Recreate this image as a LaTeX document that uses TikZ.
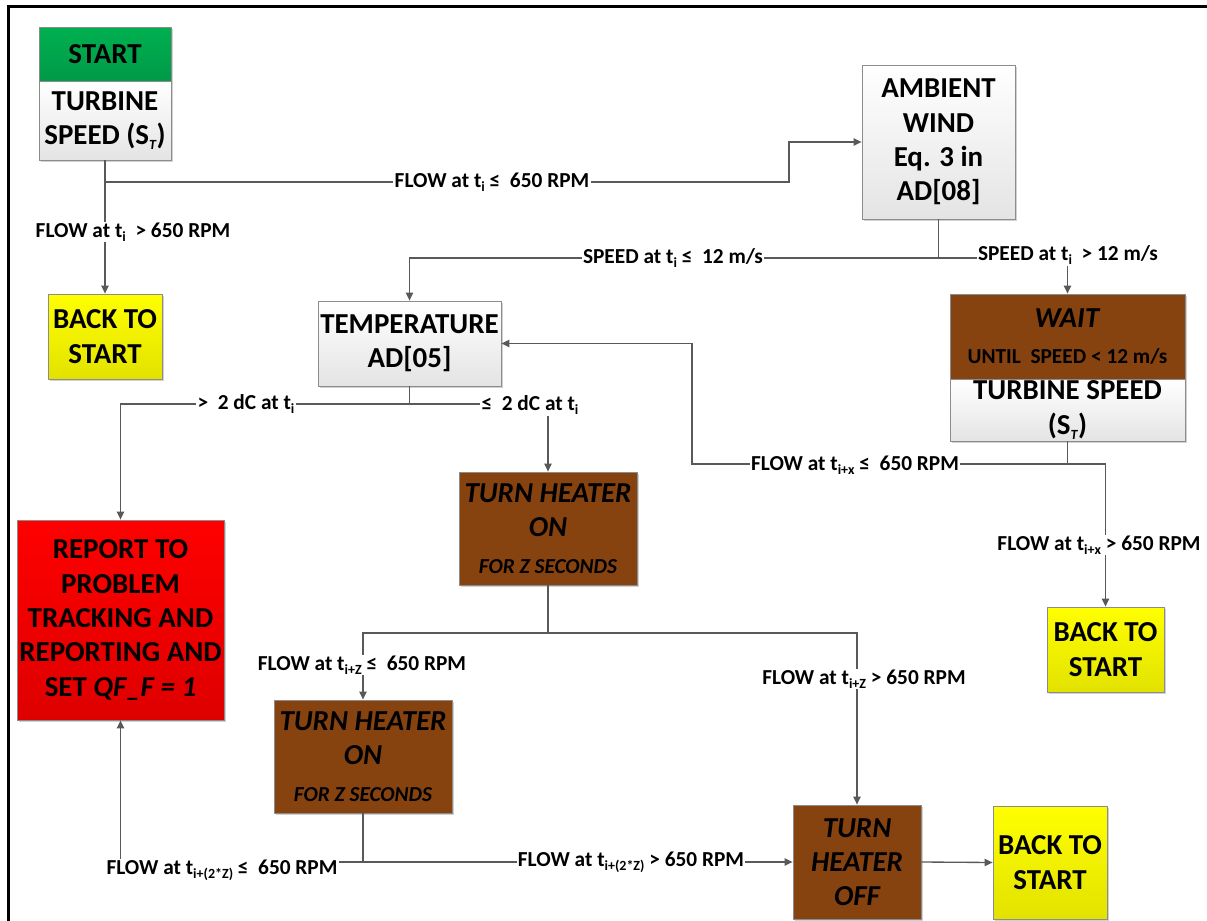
\documentclass[tikz,border=0pt]{standalone}
\usepackage{fontspec}
\setmainfont{Carlito}
\usetikzlibrary{arrows.meta,shadows}
\definecolor{boxline}{HTML}{8C8C8C}
\definecolor{conn}{HTML}{595959}
\definecolor{greenT}{HTML}{00B050}
\definecolor{greenB}{HTML}{009A48}
\definecolor{grayT}{HTML}{FFFFFF}
\definecolor{grayB}{HTML}{E4E4E4}
\definecolor{yelT}{HTML}{FFFF00}
\definecolor{yelB}{HTML}{E2E200}
\definecolor{brownF}{HTML}{86420F}
\definecolor{redT}{HTML}{FF0000}
\definecolor{redB}{HTML}{DE0000}
\newcommand{\boxfont}{\fontsize{21.7}{25.7}\selectfont\bfseries}
\newcommand{\lblfont}{\fontsize{16}{19}\selectfont\bfseries}
\newcommand{\smallfont}{\fontsize{16}{19}\selectfont}
\newcommand{\sbs}[1]{\raisebox{-0.35ex}{\fontsize{10.5}{11}\selectfont #1}}
\tikzset{
  box/.style={draw=boxline, line width=0.6pt, inner sep=0pt, align=center, font=\boxfont,
    drop shadow={shadow xshift=1.5pt, shadow yshift=-1.5pt, opacity=0.3, fill=black!60}},
  graybox/.style={box, top color=grayT, bottom color=grayB},
  greenbox/.style={box, top color=greenT, bottom color=greenB},
  yelbox/.style={box, top color=yelT, bottom color=yelB},
  brownbox/.style={box, fill=brownF},
  redbox/.style={box, top color=redT, bottom color=redB},
  lbl/.style={font=\lblfont, fill=white, inner sep=1pt},
  conline/.style={draw=conn, line width=1pt},
  arr/.style={conline, -{Triangle[length=6pt,width=5.5pt]}}
}
\begin{document}
\begin{tikzpicture}[x=0.75pt,y=-0.75pt]
\useasboundingbox (0,0) rectangle (1207,921);
\draw[line width=2.25pt] (8,921) -- (8,6.5) -- (1207,6.5);

% boxes
\node[greenbox, minimum width=99pt, minimum height=40.5pt] (start) at (105,54) {START};
\node[graybox, minimum width=99pt, minimum height=59.25pt] (turb1) at (105,120.5) {TURBINE\\SPEED (S\sbs{\textit{T}})};
\node[graybox, minimum width=114.75pt, minimum height=115.5pt] (amb) at (938.5,142) {AMBIENT\\WIND\\Eq. 3 in\\AD[08]};
\node[yelbox, minimum width=85.5pt, minimum height=63.75pt] (back1) at (105,336.5) {BACK TO\\START};
\node[graybox, minimum width=137.25pt, minimum height=63.75pt] (temp) at (409.5,343.5) {TEMPERATURE\\AD[05]};
\node[brownbox, minimum width=176.25pt, minimum height=63.75pt] (wait) at (1067.5,336.5) {\textit{WAIT}\\[1pt]{\smallfont UNTIL\ \ SPEED < 12 m/s}};
\node[graybox, minimum width=176.25pt, minimum height=46.5pt] (turb2) at (1067.5,410) {TURBINE SPEED\\(S\sbs{\textit{T}})};
\node[redbox, minimum width=155.25pt, minimum height=150pt] (report) at (120.5,620) {REPORT TO\\PROBLEM\\TRACKING AND\\REPORTING AND\\SET \textit{QF\_F = 1}};
\node[brownbox, minimum width=133.5pt, minimum height=84.75pt] (heat1) at (548,528.5) {\itshape TURN HEATER\\\itshape ON\\[2pt]{\smallfont\itshape FOR Z SECONDS}};
\node[yelbox, minimum width=87.75pt, minimum height=63.75pt] (back2) at (1105.5,649.5) {BACK TO\\START};
\node[brownbox, minimum width=133.5pt, minimum height=84.75pt] (heat2) at (363,756.5) {\itshape TURN HEATER\\\itshape ON\\[2pt]{\smallfont\itshape FOR Z SECONDS}};
\node[brownbox, minimum width=96pt, minimum height=85.5pt] (off) at (857,862) {\itshape TURN\\\itshape HEATER\\\itshape OFF};
\node[yelbox, minimum width=85.5pt, minimum height=84.75pt] (back3) at (1050,862.5) {BACK TO\\START};

% junctions
\coordinate (j1) at (105,182);
\coordinate (j2) at (938.5,258);
\coordinate (j3) at (409.5,404);
\coordinate (j4) at (548,633);
\coordinate (j5) at (363,862);
\coordinate (j6) at (1067.5,464);

% connectors
\draw[arr] (turb1.south) -- (back1.north);
\draw[arr] (j1) -- (789,182) |- (amb.west);
\draw[conline] (amb.south) -- (j2);
\draw[arr] (j2) -| (temp.north);
\draw[arr] (j2) -| (wait.north);
\draw[conline] (temp.south) -- (j3);
\draw[arr] (j3) -| (report.north);
\draw[arr] (j3) -| (heat1.north);
\draw[conline] (heat1.south) -- (j4);
\draw[arr] (j4) -| (heat2.north);
\draw[arr] (j4) -| (off.north);
\draw[conline] (heat2.south) -- (j5);
\draw[arr] (j5) -| (report.south);
\draw[arr] (j5) -- (off.west);
\draw[arr] (off.east) -- (back3.west);
\draw[conline] (turb2.south) -- (j6);
\draw[arr] (j6) -- (692,464) |- (temp.east);
\draw[arr] (j6) -| (back2.north);

% labels
\node[lbl] (l1) at (492,182) {FLOW at t\sbs{i} ≤\ \ 650 RPM};
\node[lbl] (l2) at (133,232) {FLOW at t\sbs{i}\ \ > 650 RPM};
\node[lbl] (l3) at (673,258) {SPEED at t\sbs{i} ≤\ \ 12 m/s};
\node[lbl] (l4) at (1068,255) {SPEED at t\sbs{i}\ \ > 12 m/s};
\node[lbl] (l5) at (246,404) {>\ \ 2 dC at t\sbs{i}};
\node[lbl] (l6) at (530,405) {≤\ \ 2 dC at t\sbs{i}};
\node[lbl] (l7) at (855,465) {FLOW at t\sbs{i+x} ≤\ \ 650 RPM};
\node[lbl] (l8) at (1099,545) {FLOW at t\sbs{i+x} > 650 RPM};
\node[lbl] (l9) at (362,665) {FLOW at t\sbs{i+Z} ≤\ \ 650 RPM};
\node[lbl] (l10) at (864,679) {FLOW at t\sbs{i+Z} > 650 RPM};
\node[lbl] (l11) at (222,870) {FLOW at t\sbs{i+(2*Z)} ≤\ \ 650 RPM};
\node[lbl] (l12) at (631,862) {FLOW at t\sbs{i+(2*Z)} > 650 RPM};
\end{tikzpicture}
\end{document}
